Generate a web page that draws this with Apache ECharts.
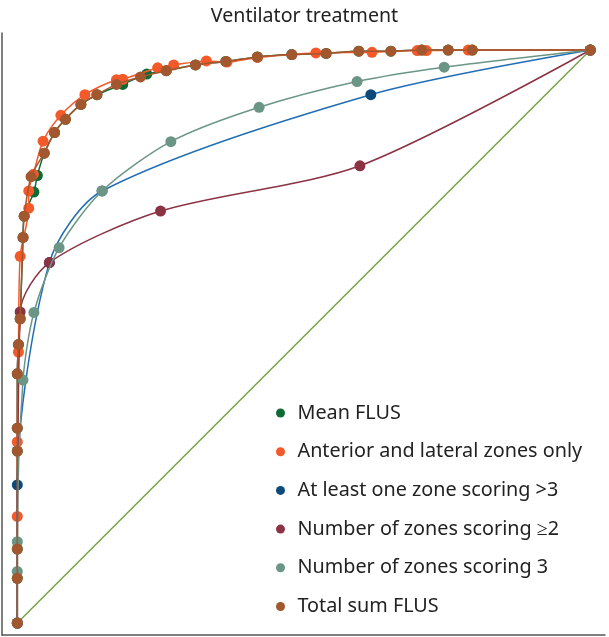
<!DOCTYPE html>
<html><head><meta charset="utf-8">
<script src="https://cdn.jsdelivr.net/npm/echarts@6/dist/echarts.min.js"></script>
<style>html,body{margin:0;padding:0;background:#fff}#c{width:609px;height:637px}</style>
</head><body><div id="c"></div>
<script>
const seriesNames = ['Mean FLUS','Anterior and lateral zones only','At least one zone scoring >3','Number of zones scoring \u22652','Number of zones scoring 3','Total sum FLUS'];
const meanFLUS = [[0,0],[0,0.078],[0,0.129],[0,0.300],[0,0.340],[0,0.435],[0.002,0.486],[0.005,0.531],[0.010,0.673],[0.012,0.710],[0.029,0.752],[0.035,0.781],[0.047,0.820],[0.065,0.856],[0.084,0.879],[0.111,0.905],[0.139,0.922],[0.184,0.940],[0.226,0.958],[0.260,0.964],[0.311,0.974],[0.364,0.980],[0.419,0.988],[0.479,0.992],[0.539,0.994],[0.596,0.998],[0.652,0.998],[0.706,1.0],[0.752,1.0],[0.794,1.0],[1,1]];
const anteriorLateral = [[0,0],[0,0.186],[0,0.316],[0.002,0.473],[0.005,0.640],[0.020,0.724],[0.020,0.754],[0.028,0.783],[0.045,0.841],[0.076,0.886],[0.118,0.922],[0.173,0.948],[0.184,0.949],[0.245,0.969],[0.273,0.974],[0.330,0.981],[0.366,0.979],[0.419,0.987],[0.521,0.995],[0.619,0.996],[0.698,0.999],[0.714,0.999],[0.787,1.0],[1,1]];
const atLeastOne = [[0,0],[0,0.241],[0.056,0.629],[0.148,0.754],[0.617,0.922],[1,1]];
const zonesGE2 = [[0,0],[0.005,0.543],[0.056,0.629],[0.250,0.719],[0.598,0.798],[1,1]];
const zones3 = [[0,0],[0,0.090],[0,0.142],[0.010,0.424],[0.029,0.542],[0.073,0.655],[0.148,0.754],[0.268,0.840],[0.422,0.900],[0.593,0.945],[0.745,0.970],[1,1]];
const totalSum = [[0,0],[0,0.078],[0,0.129],[0,0.300],[0,0.340],[0,0.435],[0.002,0.486],[0.005,0.531],[0.010,0.673],[0.012,0.710],[0.024,0.779],[0.047,0.820],[0.065,0.856],[0.084,0.879],[0.111,0.905],[0.139,0.922],[0.173,0.940],[0.215,0.953],[0.260,0.964],[0.311,0.974],[0.364,0.980],[0.419,0.988],[0.479,0.992],[0.539,0.994],[0.596,0.998],[0.652,0.998],[0.706,1.0],[0.752,1.0],[0.794,1.0],[1,1]];
const reference = [[0,0],[1,1]];

const dataSets = [meanFLUS, anteriorLateral, atLeastOne, zonesGE2, zones3, totalSum];
const markerColors = ['#0f6b35','#f4592a','#0d4a7a','#8b3245','#6b9585','#a3572f'];
const lineColors = ['#0f6b35','#f4592a','#1f6db5','#8b3245','#6b9585','#a3572f'];

const font = 'Noto Sans';
const chart = echarts.init(document.getElementById('c'), null, {renderer:'canvas'});
const series = dataSets.map((d,i)=>({
  name: seriesNames[i], type:'line', data:d, smooth:0.28,
  symbol:'circle', symbolSize:11,
  itemStyle:{color:markerColors[i]},
  lineStyle:{color:lineColors[i], width:1.5},
  z: 2+i
}));
series.unshift({name:'ref', type:'line', data:reference, symbol:'none',
  lineStyle:{color:'#6ea040', width:1.3}, z:1, legendHoverLink:false});
chart.setOption({
  animation:false,
  title:{text:'Ventilator treatment', left:'center', top:1,
    textStyle:{fontFamily:font, fontSize:19.6, fontWeight:'normal', color:'#222'}},
  grid:{left:2, right:4, top:33, bottom:2, containLabel:false},
  xAxis:{type:'value', min:-0.0267, max:1.0257,
    axisLine:{show:true, onZero:false, lineStyle:{color:'#555', width:1.5}},
    axisTick:{show:false}, axisLabel:{show:false}, splitLine:{show:false}},
  yAxis:{type:'value', min:-0.0209, max:1.0297,
    axisLine:{show:true, onZero:false, lineStyle:{color:'#555', width:1.5}},
    axisTick:{show:false}, axisLabel:{show:false}, splitLine:{show:false}},
  legend:{data:seriesNames, orient:'vertical', left:271, top:398,
    icon:'circle', itemWidth:24, itemHeight:9, itemGap:18.7,
    textStyle:{fontFamily:font, fontSize:19.8, color:'#222', lineHeight:20}},
  series: series
});
</script></body></html>
